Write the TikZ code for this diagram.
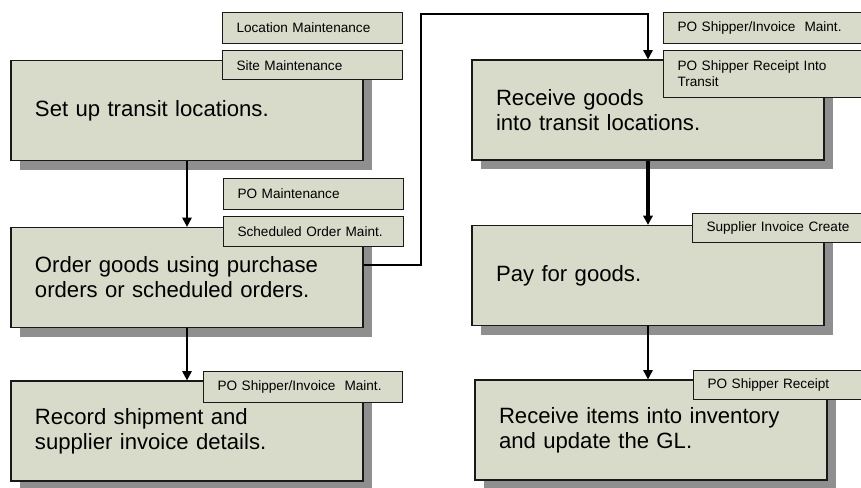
\documentclass[tikz,border=0pt]{standalone}
\usepackage{fontspec}
\setmainfont{Liberation Sans}
\usetikzlibrary{arrows.meta,shadows,calc}
\definecolor{boxfill}{RGB}{216,218,202}
\definecolor{shadowgray}{RGB}{143,143,143}
\begin{document}
\begin{tikzpicture}[x=0.75pt,y=-0.75pt,
    stepbox/.style={draw=black!90,line width=0.9pt,fill=boxfill,
        minimum height=75pt,text width=228pt,inner xsep=18pt,align=left,
        font=\fontsize{16.6}{18.8}\selectfont,
        drop shadow={shadow xshift=6.75pt,shadow yshift=-6.75pt,
            fill=shadowgray,opacity=1}},
    tagbox/.style={draw=black!90,line width=0.8pt,fill=boxfill,
        anchor=north west,align=left,text width=#1,inner xsep=10.5pt,
        inner ysep=0pt,font=\fontsize{10.2}{12}\selectfont},
    flow/.style={-{Triangle[width=7pt,length=7pt]},line width=1.5pt}]
    \useasboundingbox (0,0) rectangle (861,487);

    \node[stepbox] (setup) at (187,110.5) {Set up transit locations.};
    \node[stepbox] (order) at (187,277.5)
        {Order goods using purchase\\orders or scheduled orders.};
    \node[stepbox] (record) at (187,431)
        {Record shipment and\\supplier invoice details.};

    \node[stepbox] (transit) at (648,110)
        {Receive goods\\into transit locations.};
    \node[stepbox] (pay) at (648,275.5) {Pay for goods.};
    \node[stepbox] (inventory) at (651,430)
        {Receive items into inventory\\and update the GL.};

    \node[tagbox=114pt,minimum height=23.25pt] (locmaint) at (222,12)
        {Location Maintenance};
    \node[tagbox=114pt,minimum height=22pt] (sitemaint) at (222,50)
        {Site Maintenance};
    \node[tagbox=114pt,minimum height=23.25pt] (pomaint) at (223,178)
        {PO Maintenance};
    \node[tagbox=114pt,minimum height=22.5pt] (schedmaint) at (223,216)
        {Scheduled Order Maint.};
    \node[tagbox=128pt,minimum height=23.25pt] (shipmaint) at (203,371)
        {PO Shipper/Invoice\ \ Maint.};

    \node[tagbox=140pt,minimum height=23.25pt] (shipmaintb) at (663,12)
        {PO Shipper/Invoice\ \ Maint.};
    \node[tagbox=140pt,minimum height=35.25pt] (transitrcpt) at (663,50)
        {PO Shipper Receipt Into\\Transit};
    \node[tagbox=130pt,minimum height=22pt] (invcreate) at (692,213)
        {Supplier Invoice Create};
    \node[tagbox=130pt,minimum height=22pt] (shiprcpt) at (693,370)
        {PO Shipper Receipt};

    \coordinate (orderout) at ($(order.east)+(0,-12.5)$);
    \coordinate (bend) at (421,14);

    \draw[flow] (setup) -- (order);
    \draw[flow] (order) -- (record);
    \draw[flow] (orderout) -| (bend) -| (transit.north);
    \draw[flow,line width=2.4pt] (transit) -- (pay);
    \draw[flow] (pay.south) -- (pay.south |- inventory.north);
\end{tikzpicture}
\end{document}
